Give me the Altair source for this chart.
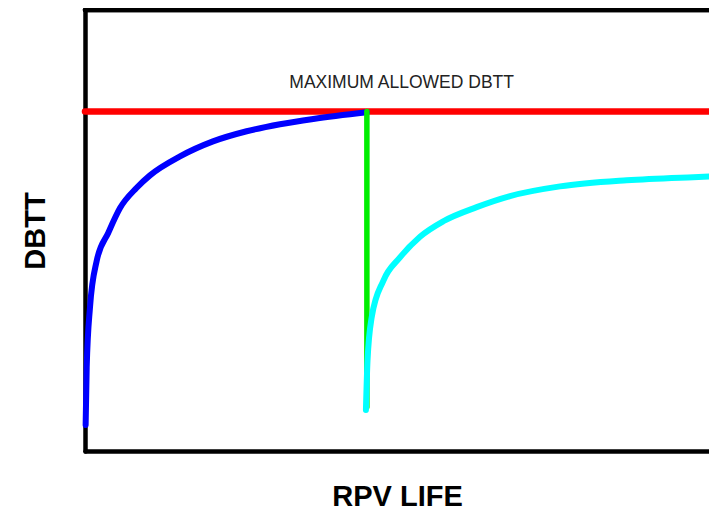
import altair as alt
import pandas as pd

# --- data (axes are unitless 0-100) ---
blue_x = [0.1, 0.27, 0.79, 1.85, 3.69, 5.54, 8.18, 10.28, 15.03, 20.25, 25.58, 30.85, 36.12, 44.6]
blue_y = [5.9, 19.0, 32.6, 43.1, 49.5, 55.1, 59.7, 62.5, 66.8, 70.2, 72.5, 74.1, 75.3, 76.8]

cyan_x = [44.45, 44.7, 45.36, 47.2, 49.84, 53.01, 56.69, 61.98, 67.25, 75.16, 85.71, 96.25, 100]
cyan_y = [9.3, 20.5, 30.3, 38.6, 43.9, 48.6, 52.1, 55.3, 57.8, 60.0, 61.4, 62.1, 62.3]

limit_x = [0, 100]
limit_y = [77, 77]

anneal_x = [44.6, 44.6]
anneal_y = [77, 10]

label_text = ["MAXIMUM ALLOWED DBTT"]
label_x = [50.1]
label_y = [82.2]

x_title = "RPV LIFE"
y_title = "DBTT"

W, H = 624, 441
X_MAX = 100 * W / 632  # visible part of the life axis (the reference is cropped at the right)
AXIS_W = 4.5

blue = pd.DataFrame({"x": blue_x, "y": blue_y})
cyan = pd.DataFrame({"x": cyan_x, "y": cyan_y})
limit = pd.DataFrame({"x": limit_x, "y": limit_y})
anneal = pd.DataFrame({"x": anneal_x, "y": anneal_y})
label = pd.DataFrame({"x": label_x, "y": label_y, "t": label_text})

xs = alt.Scale(domain=[0, X_MAX], nice=False, zero=False)
ys = alt.Scale(domain=[0, 100], nice=False, zero=False)

x_axis = alt.Axis(
    title=x_title, ticks=False, labels=False, grid=False,
    domainColor="black", domainWidth=AXIS_W, domainCap="round",
    titleFont="Liberation Sans", titleFontSize=29, titleFontWeight="bold",
    titleColor="black", titlePadding=31,
)
y_axis = alt.Axis(
    title=y_title, ticks=False, labels=False, grid=False,
    domainColor="black", domainWidth=AXIS_W, domainCap="round",
    titleFont="Liberation Sans", titleFontSize=29, titleFontWeight="bold",
    titleColor="black", titlePadding=35,
)

X = alt.X("x:Q", scale=xs, axis=x_axis)
Y = alt.Y("y:Q", scale=ys, axis=y_axis)

red_layer = alt.Chart(limit).mark_line(color="#ff0000", strokeWidth=6.5, strokeCap="round").encode(x=X, y=Y)

blue_layer = alt.Chart(blue).mark_line(
    color="#0000ff", strokeWidth=6, strokeCap="round", interpolate="monotone"
).encode(x=X, y=Y)

green_layer = alt.Chart(anneal).mark_line(color="#00ee00", strokeWidth=5.5, strokeCap="round").encode(x=X, y=Y)

cyan_layer = alt.Chart(cyan).mark_line(
    color="#00ffff", strokeWidth=6, strokeCap="round", interpolate="monotone"
).encode(x=X, y=Y)

text_layer = alt.Chart(label).mark_text(
    font="Liberation Sans", fontSize=17.5, color="#222222", align="center", baseline="alphabetic"
).encode(x=X, y=Y, text="t:N")

top_border = alt.Chart(limit).mark_rule(color="black", strokeWidth=AXIS_W, strokeCap="round").encode(
    x=alt.value(0), x2=alt.value(W + 10), y=alt.value(0)
)

chart = alt.layer(
    red_layer, top_border, blue_layer, green_layer, cyan_layer, text_layer
).properties(
    width=W, height=H,
    autosize=alt.AutoSizeParams(type="none"),
    padding={"left": 77, "top": 2, "right": 0, "bottom": 62},
    background="white",
).configure_view(stroke=None)

chart.save("out.html", embed_options={"renderer": "svg", "actions": False})
